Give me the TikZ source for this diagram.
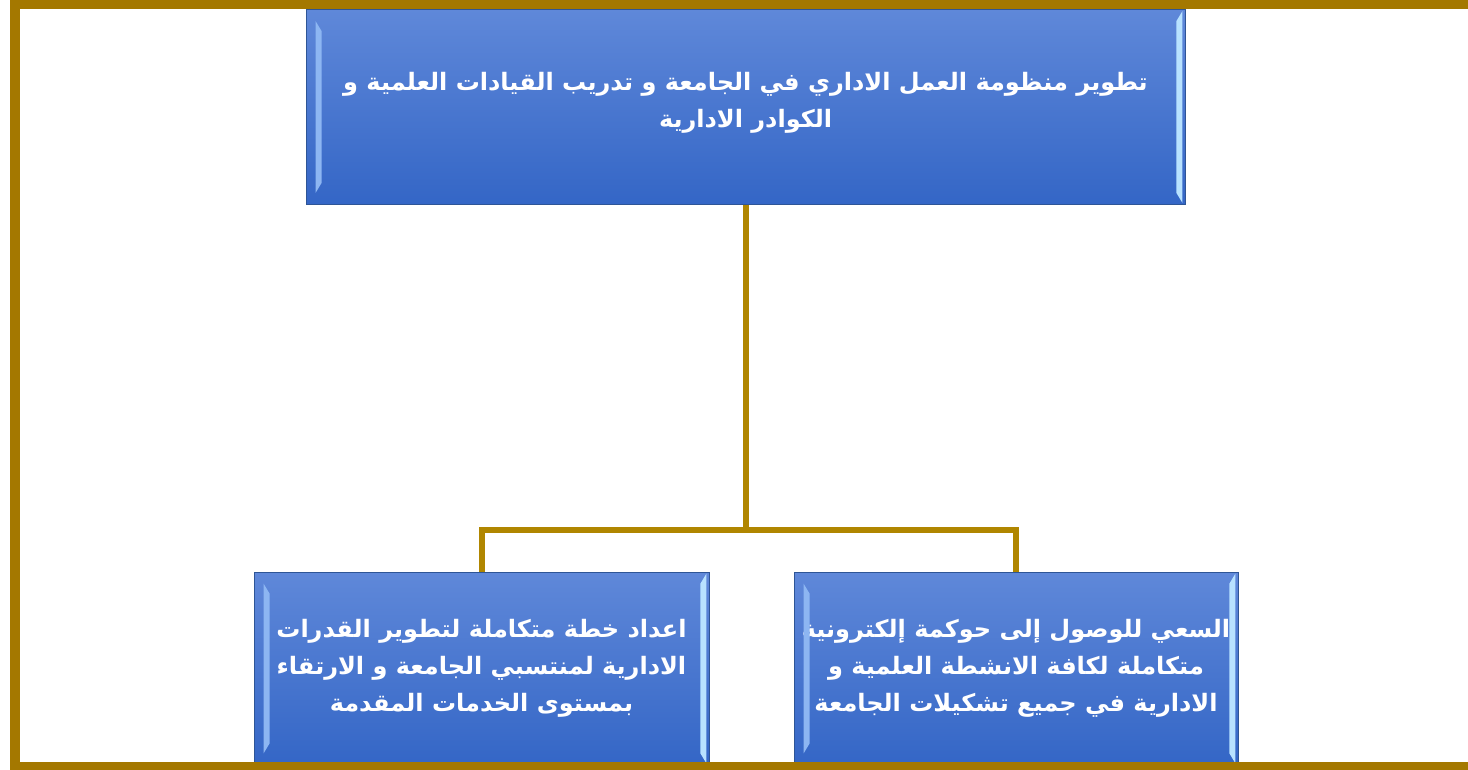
\documentclass[tikz,border=0pt]{standalone}
\usepackage{fontspec}
\newfontfamily\arabicfont[Script=Arabic]{DejaVu Sans}
\TeXXeTstate=1
\usepackage{tikz}
\usetikzlibrary{calc}
\definecolor{frameGold}{HTML}{A47800}
\definecolor{linkGold}{HTML}{B08600}
\definecolor{boxTop}{HTML}{5F88D9}
\definecolor{boxBot}{HTML}{3466C6}
\definecolor{boxEdge}{HTML}{2E5596}
\definecolor{bevelL}{HTML}{8DB6F2}
\definecolor{bevelR}{HTML}{B8E2FF}
\tikzset{
	goalbox/.style={rectangle, draw=boxEdge, line width=0.8pt, top color=boxTop, bottom color=boxBot, text=white, align=center, inner sep=0pt, font={\arabicfont\bfseries\fontsize{24}{37}\selectfont}},
	link/.style={draw=linkGold, line width=6pt}
}
\def\bevel(#1){%
	\fill[bevelL] ($(#1.north west)+(10,12)$) -- ($(#1.north west)+(16,22)$) -- ($(#1.south west)+(16,-22)$) -- ($(#1.south west)+(10,-12)$) -- cycle;
	\fill[bevelR] ($(#1.north east)+(-9,12)$) -- ($(#1.north east)+(-3,2)$) -- ($(#1.south east)+(-3,-2)$) -- ($(#1.south east)+(-9,-12)$) -- cycle;}

\begin{document}
\begin{tikzpicture}[x=1pt,y=-1pt]
		%%%%% START %%%%%
		
		\useasboundingbox (0,0) rectangle (1468,770);
		\fill[white] (0,0) rectangle (1468,770);
		
		\node[goalbox, minimum width=879pt, minimum height=195pt, text depth=14pt] (top) at (745.5,107) {\beginR تطوير منظومة العمل الاداري في الجامعة و تدريب القيادات العلمية و\endR\\ \beginR الكوادر الادارية\endR};
		\node[goalbox, minimum width=455pt, minimum height=193pt] (left) at (481.5,668.5) {\beginR اعداد خطة متكاملة لتطوير القدرات\endR\\ \beginR الادارية لمنتسبي الجامعة و الارتقاء\endR\\ \beginR بمستوى الخدمات المقدمة\endR};
		\node[goalbox, minimum width=444pt, minimum height=193pt] (right) at (1016,668.5) {\beginR السعي للوصول إلى حوكمة إلكترونية\endR\\ \beginR متكاملة لكافة الانشطة العلمية و\endR\\ \beginR الادارية في جميع تشكيلات الجامعة\endR};
		
		\bevel(top)
		\bevel(left)
		\bevel(right)
		
		\coordinate (junc) at (745.5,530);
		\draw[link] (top.south) -- (junc);
		\draw[link] (junc) -| (left.north);
		\draw[link] (junc) -| (right.north);
		
		\draw[frameGold, line width=10pt] (15,4.5) rectangle (1490,767);
		
		%%%%% END %%%%%
	\end{tikzpicture}
\end{document}
